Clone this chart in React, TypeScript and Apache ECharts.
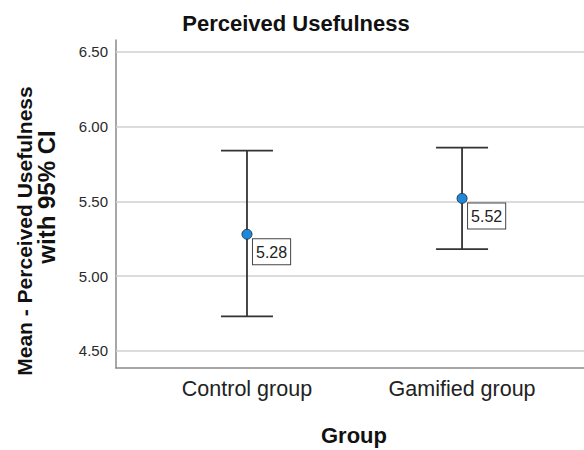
import React, { useEffect, useRef } from "react";
import * as echarts from "echarts";

const categories = ["Control group", "Gamified group"];
const means = [5.28, 5.52];
const lowerCI = [4.73, 5.18];
const upperCI = [5.84, 5.86];
const yTicks = [4.5, 5.0, 5.5, 6.0, 6.5];

const FONT = '"Liberation Sans", Arial, sans-serif';

export default function App() {
  const ref = useRef<HTMLDivElement>(null);
  useEffect(() => {
    document.body.style.margin = "0";
    if (!ref.current) return;
    const chart = echarts.init(ref.current, undefined, { renderer: "svg" });
    const data = categories.map((c, i) => [i, lowerCI[i], upperCI[i], means[i]]);
    const option: any = {
      animation: false,
      backgroundColor: "#ffffff",
      grid: { left: 116, right: 0, top: 40, bottom: 82 },
      xAxis: {
        type: "value",
        min: -0.609,
        max: 1.567,
        axisLine: { show: true, onZero: false, lineStyle: { color: "#8a8a8a", width: 1.5 } },
        axisTick: { show: false },
        splitLine: { show: false },
        axisLabel: {
          customValues: [0, 1],
          formatter: (v: number) => categories[Math.round(v)] ?? "",
          fontSize: 21.5,
          fontFamily: FONT,
          color: "#222",
          margin: 10,
        },
      },
      yAxis: {
        type: "value",
        min: 4.385,
        max: 6.58,
        axisLine: { show: true, onZero: false, lineStyle: { color: "#8a8a8a", width: 1.5 } },
        axisTick: { show: false },
        splitLine: { show: false },
        axisLabel: {
          customValues: yTicks,
          formatter: (v: number) => v.toFixed(2),
          fontSize: 15,
          fontFamily: FONT,
          color: "#2a2a2a",
          margin: 8,
        },
      },
      graphic: [
        {
          type: "text",
          x: 296,
          y: 23,
          style: {
            text: "Perceived Usefulness",
            font: `bold 22px ${FONT}`,
            fill: "#111",
            align: "center",
            verticalAlign: "middle",
          },
        },
        {
          type: "text",
          x: 354,
          y: 435,
          style: {
            text: "Group",
            font: `bold 22px ${FONT}`,
            fill: "#111",
            align: "center",
            verticalAlign: "middle",
          },
        },
        {
          type: "text",
          x: 24,
          y: 231,
          rotation: Math.PI / 2,
          style: {
            text: "Mean - Perceived Usefulness",
            font: `bold 21px ${FONT}`,
            fill: "#111",
            align: "center",
            verticalAlign: "middle",
          },
        },
        {
          type: "text",
          x: 46,
          y: 197,
          rotation: Math.PI / 2,
          style: {
            text: "with 95% CI",
            font: `bold 24px ${FONT}`,
            fill: "#111",
            align: "center",
            verticalAlign: "middle",
          },
        },
      ],
      series: [
        {
          type: "scatter",
          data: [],
          z: 1,
          silent: true,
          markLine: {
            silent: true,
            symbol: ["none", "none"],
            label: { show: false },
            lineStyle: { color: "#d0d0d0", width: 1.5, type: "solid" },
            data: yTicks.map((t) => ({ yAxis: t })),
          },
        },
        {
          type: "custom",
          z: 5,
          data,
          renderItem: (params: any, api: any) => {
            const x = api.value(0);
            const lo = api.value(1);
            const hi = api.value(2);
            const m = api.value(3);
            const pLo = api.coord([x, lo]);
            const pHi = api.coord([x, hi]);
            const pM = api.coord([x, m]);
            const hw = 26;
            const stroke = { stroke: "#333", lineWidth: 1.8 };
            return {
              type: "group",
              children: [
                { type: "line", shape: { x1: pHi[0], y1: pHi[1], x2: pLo[0], y2: pLo[1] }, style: stroke },
                { type: "line", shape: { x1: pHi[0] - hw, y1: pHi[1], x2: pHi[0] + hw, y2: pHi[1] }, style: stroke },
                { type: "line", shape: { x1: pLo[0] - hw, y1: pLo[1], x2: pLo[0] + hw, y2: pLo[1] }, style: stroke },
                {
                  type: "circle",
                  shape: { cx: pM[0], cy: pM[1], r: 5 },
                  style: { fill: "#1f88d8", stroke: "#263a52", lineWidth: 1 },
                },
                {
                  type: "text",
                  x: pM[0] + 6,
                  y: pM[1] + 5,
                  style: {
                    text: m.toFixed(2),
                    font: `16px ${FONT}`,
                    fill: "#222",
                    align: "left",
                    verticalAlign: "top",
                    backgroundColor: "#ffffff",
                    borderColor: "#444",
                    borderWidth: 1,
                    padding: [5, 3, 4, 3],
                  },
                },
              ],
            };
          },
        },
      ],
    };
    chart.setOption(option);
    return () => chart.dispose();
  }, []);
  return <div ref={ref} style={{ width: 584, height: 450 }} />;
}
